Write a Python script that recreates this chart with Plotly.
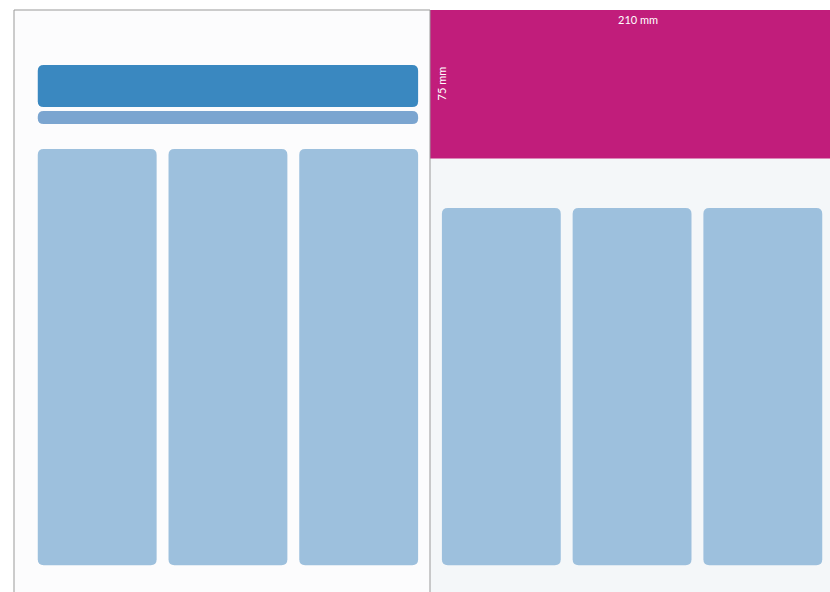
import plotly.graph_objects as go

# Page layout in millimetres (A4 spread)
page_w = 210
page_h = 297
header_h = 75
dim_labels = ["210 mm", "75 mm"]
outer_margin = 12
inner_margin = 6
col_w = 60
gutter = 6
n_cols = 3
left_cols_top = 70.2
right_cols_top = 100
cols_bottom = 280.3
title_bar = (27.8, 49.0)
sub_bar = (51.0, 57.6)
radius = 3

# colours
c_left_bg = "#FCFCFD"
c_right_bg = "#F4F7F9"
c_header = "#C11D7B"
c_title = "#3A88C0"
c_sub = "#7BA5D0"
c_col = "#9DC0DD"
c_line = "#999999"

k = 1.981  # px per mm
ox, oy = 14, 10
W, H = 830, 592


def rrect(x0, y0, x1, y1, r, color):
    p = (f"M {x0+r},{y0} L {x1-r},{y0} Q {x1},{y0} {x1},{y0+r} "
         f"L {x1},{y1-r} Q {x1},{y1} {x1-r},{y1} L {x0+r},{y1} "
         f"Q {x0},{y1} {x0},{y1-r} L {x0},{y0+r} Q {x0},{y0} {x0+r},{y0} Z")
    return dict(type="path", path=p, fillcolor=color, line=dict(width=0), layer="above")


shapes = []
# page backgrounds
shapes.append(dict(type="rect", x0=0, x1=page_w, y0=0, y1=page_h, fillcolor=c_left_bg, line=dict(width=0), layer="below"))
shapes.append(dict(type="rect", x0=page_w, x1=2 * page_w, y0=0, y1=page_h, fillcolor=c_right_bg, line=dict(width=0), layer="below"))
shapes.append(dict(type="rect", x0=page_w, x1=2 * page_w, y0=0, y1=header_h, fillcolor=c_header, line=dict(width=0), layer="below"))

# left page: title + sub bars
lx0 = outer_margin
lx1 = page_w - inner_margin
shapes.append(rrect(lx0, title_bar[0], lx1, title_bar[1], radius, c_title))
shapes.append(rrect(lx0, sub_bar[0], lx1, sub_bar[1], radius, c_sub))

# columns
for i in range(n_cols):
    x0 = lx0 + i * (col_w + gutter)
    shapes.append(rrect(x0, left_cols_top, x0 + col_w, cols_bottom, radius, c_col))
rx0 = page_w + inner_margin
for i in range(n_cols):
    x0 = rx0 + i * (col_w + gutter)
    shapes.append(rrect(x0, right_cols_top, x0 + col_w, cols_bottom, radius, c_col))

# borders
shapes.append(dict(type="line", x0=0, x1=page_w, y0=0, y1=0, line=dict(color=c_line, width=1), layer="above"))
shapes.append(dict(type="line", x0=0, x1=0, y0=0, y1=page_h, line=dict(color=c_line, width=1), layer="above"))
shapes.append(dict(type="line", x0=page_w, x1=page_w, y0=0, y1=page_h, line=dict(color=c_line, width=1), layer="above"))

annotations = [
    dict(x=page_w + page_w / 2, y=5, text=dim_labels[0], showarrow=False,
         font=dict(family="Lato", size=11, color="white"), xanchor="center", yanchor="middle"),
    dict(x=page_w + 5.6, y=header_h / 2 - 0.5, text=dim_labels[1], showarrow=False, textangle=-90,
         font=dict(family="Lato", size=11, color="white"), xanchor="center", yanchor="middle"),
]

fig = go.Figure()
fig.add_trace(go.Scatter(x=[0], y=[0], mode="markers", marker=dict(opacity=0), hoverinfo="skip", showlegend=False))
fig.update_layout(
    width=W, height=H, margin=dict(l=0, r=0, t=0, b=0),
    paper_bgcolor="white", plot_bgcolor="white",
    shapes=shapes, annotations=annotations, showlegend=False,
    xaxis=dict(range=[-ox / k, (W - ox) / k], visible=False, fixedrange=True),
    yaxis=dict(range=[(H - oy) / k, -oy / k], visible=False, fixedrange=True),
)
fig.write_html("out.html", config={"displayModeBar": False},
               post_script="document.body.style.margin='0';document.body.style.overflow='hidden';")
